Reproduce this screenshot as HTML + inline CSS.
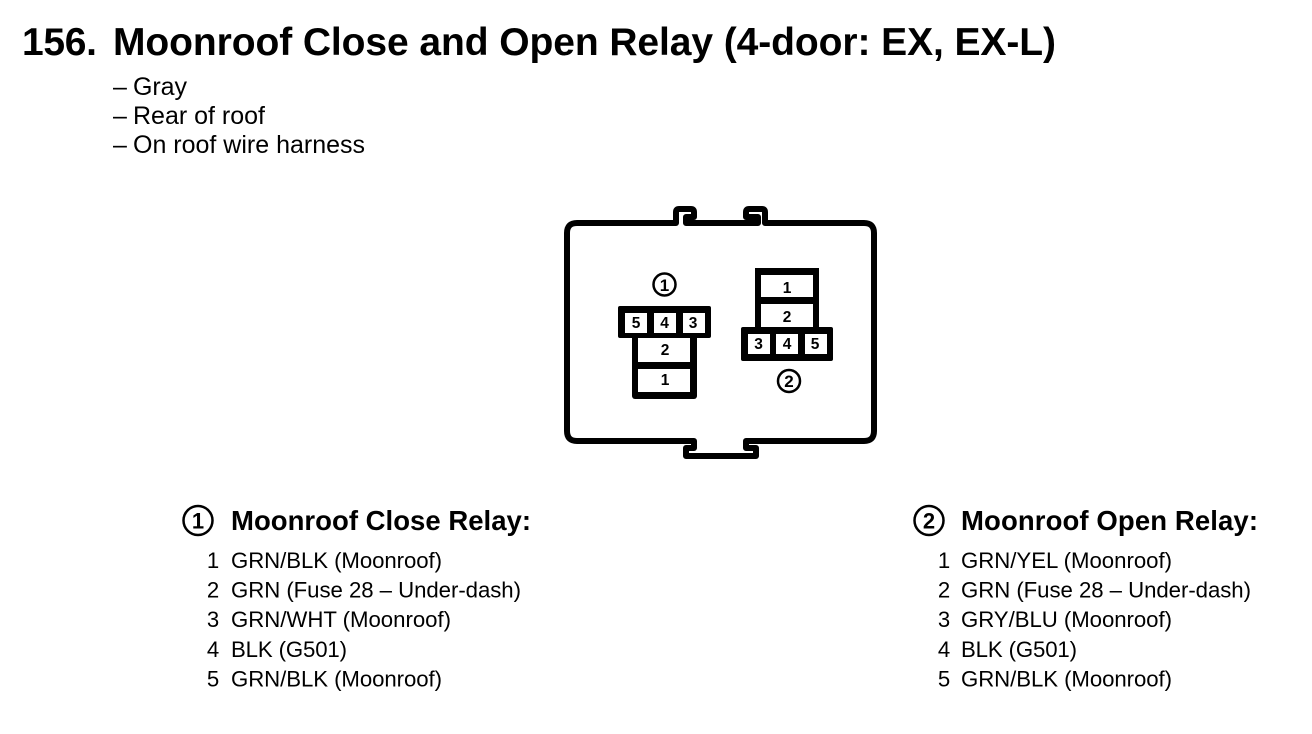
<!DOCTYPE html>
<html>
<head>
<meta charset="utf-8">
<style>
html,body{margin:0;padding:0;background:#fff;width:1312px;height:734px;overflow:hidden}
svg{display:block}
text{font-family:"Liberation Sans",sans-serif;fill:#000}
.t{font-size:39px;font-weight:bold}
.s{font-size:25px}
.h{font-size:27.5px;font-weight:bold}
.i{font-size:22.2px}
.c{font-size:15.5px;font-weight:bold;text-anchor:middle}
.m{text-anchor:middle}
</style>
</head>
<body>
<svg width="1312" height="734" viewBox="0 0 1312 734" xmlns="http://www.w3.org/2000/svg">
<rect width="1312" height="734" fill="#fff"/>
<text class="t" x="22" y="55" textLength="75">156.</text>
<text class="t" x="113" y="55" textLength="943">Moonroof Close and Open Relay (4-door: EX, EX-L)</text>
<text class="s" x="113" y="95">–</text><text class="s" x="133" y="95" textLength="54">Gray</text>
<text class="s" x="113" y="124">–</text><text class="s" x="133" y="124" textLength="132">Rear of roof</text>
<text class="s" x="113" y="153">–</text><text class="s" x="133" y="153" textLength="232">On roof wire harness</text>

<path d="M567 233 Q567 223 577 223 H676 V212 Q676 209 679 209 H691 Q694 209 694 212 V217 H686 V223 H758 V217 H746 V212 Q746 209 749 209 H762 Q765 209 765 212 V223 H864 Q874 223 874 233 V431 Q874 441 864 441 H746 V448 H756 V456 H686 V448 H694 V441 H577 Q567 441 567 431 Z" fill="none" stroke="#000" stroke-width="6" stroke-linejoin="round"/>

<!-- connector 1 -->
<rect x="618" y="306" width="93" height="32" rx="2" fill="#000"/>
<rect x="632" y="330" width="65" height="69" rx="3" fill="#000"/>
<rect x="625" y="313" width="22" height="20" fill="#fff"/>
<rect x="654" y="313" width="22" height="20" fill="#fff"/>
<rect x="683" y="313" width="22" height="20" fill="#fff"/>
<rect x="638" y="338" width="52" height="24" fill="#fff"/>
<rect x="638" y="369" width="52" height="23" fill="#fff"/>
<text class="c" x="636" y="328">5</text>
<text class="c" x="664.500" y="328">4</text>
<text class="c" x="693" y="328">3</text>
<text class="c" x="665" y="355">2</text>
<text class="c" x="665" y="385">1</text>

<!-- connector 2 -->
<rect x="755" y="268" width="64" height="65" fill="#000"/>
<rect x="741" y="327" width="92" height="34" rx="2" fill="#000"/>
<rect x="761" y="275" width="52" height="22" fill="#fff"/>
<rect x="761" y="304" width="52" height="23" fill="#fff"/>
<rect x="748" y="334" width="22" height="20" fill="#fff"/>
<rect x="776" y="334" width="22" height="20" fill="#fff"/>
<rect x="805" y="334" width="22" height="20" fill="#fff"/>
<text class="c" x="787" y="293">1</text>
<text class="c" x="787" y="322">2</text>
<text class="c" x="758.500" y="349">3</text>
<text class="c" x="787" y="349">4</text>
<text class="c" x="815" y="349">5</text>

<circle cx="664.500" cy="284.500" r="11" fill="none" stroke="#000" stroke-width="2.5"/>
<text class="m" x="664.500" y="291" font-size="17" font-weight="bold">1</text>
<circle cx="789" cy="381" r="11" fill="none" stroke="#000" stroke-width="2.500"/>
<text class="m" x="789" y="387" font-size="17" font-weight="bold">2</text>

<!-- left legend -->
<circle cx="198" cy="520.500" r="14.500" fill="none" stroke="#000" stroke-width="2.500"/>
<text class="m" x="198" y="528.500" font-size="22" font-weight="bold">1</text>
<text class="h" x="231" y="530" textLength="300">Moonroof Close Relay:</text>
<text class="i m" x="213" y="568">1</text><text class="i" x="231" y="568" textLength="211">GRN/BLK (Moonroof)</text>
<text class="i m" x="213" y="597.500">2</text><text class="i" x="231" y="597.500" textLength="290">GRN (Fuse 28 – Under-dash)</text>
<text class="i m" x="213" y="627">3</text><text class="i" x="231" y="627" textLength="220">GRN/WHT (Moonroof)</text>
<text class="i m" x="213" y="657">4</text><text class="i" x="231" y="657" textLength="116">BLK (G501)</text>
<text class="i m" x="213" y="686.500">5</text><text class="i" x="231" y="686.500" textLength="211">GRN/BLK (Moonroof)</text>

<!-- right legend -->
<circle cx="929" cy="520.500" r="14.500" fill="none" stroke="#000" stroke-width="2.500"/>
<text class="m" x="929" y="528.500" font-size="22" font-weight="bold">2</text>
<text class="h" x="961" y="530" textLength="297">Moonroof Open Relay:</text>
<text class="i m" x="944" y="568">1</text><text class="i" x="961" y="568" textLength="211">GRN/YEL (Moonroof)</text>
<text class="i m" x="944" y="597.500">2</text><text class="i" x="961" y="597.500" textLength="290">GRN (Fuse 28 – Under-dash)</text>
<text class="i m" x="944" y="627">3</text><text class="i" x="961" y="627" textLength="211">GRY/BLU (Moonroof)</text>
<text class="i m" x="944" y="657">4</text><text class="i" x="961" y="657" textLength="116">BLK (G501)</text>
<text class="i m" x="944" y="686.500">5</text><text class="i" x="961" y="686.500" textLength="211">GRN/BLK (Moonroof)</text>
</svg>
</body>
</html>
